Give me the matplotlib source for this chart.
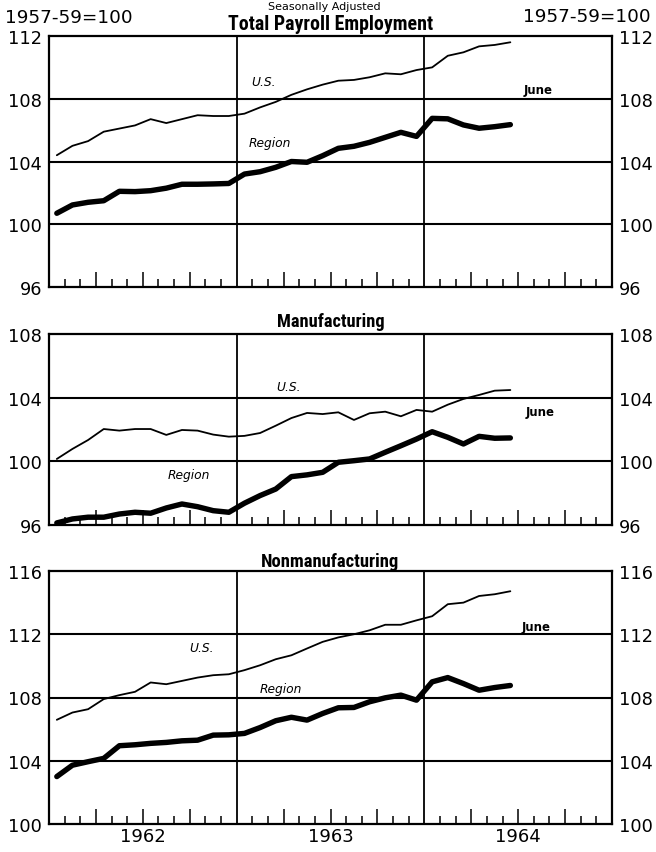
import matplotlib
matplotlib.use("Agg")
import matplotlib.pyplot as plt
import matplotlib.transforms as mtransforms
from matplotlib import font_manager
import numpy as np

# ---------------- data (monthly, Jan 1962 .. Jun 1964) ----------------
months = [f"{m} {y}" for y in (1962, 1963, 1964)
          for m in ("Jan", "Feb", "Mar", "Apr", "May", "Jun",
                    "Jul", "Aug", "Sep", "Oct", "Nov", "Dec")][:30]
years = ["1962", "1963", "1964"]

total_us = [104.4, 105.0, 105.3, 105.9, 106.1, 106.3, 106.7, 106.45, 106.7, 106.95,
            106.9, 106.9, 107.05, 107.45, 107.8, 108.25, 108.6, 108.9, 109.15, 109.2,
            109.37, 109.62, 109.56, 109.83, 110.0, 110.74, 110.96, 111.34, 111.43, 111.6]
total_region = [100.7, 101.23, 101.4, 101.5, 102.1, 102.08, 102.14, 102.3, 102.55, 102.55,
                102.57, 102.6, 103.2, 103.35, 103.63, 104.0, 103.95, 104.37, 104.84, 104.97,
                105.22, 105.54, 105.86, 105.6, 106.75, 106.72, 106.33, 106.12, 106.22, 106.35]

mfg_us = [100.15, 100.78, 101.34, 102.03, 101.93, 102.03, 102.03, 101.66, 101.97, 101.93,
          101.68, 101.55, 101.6, 101.78, 102.24, 102.72, 103.04, 102.97, 103.08, 102.6,
          103.02, 103.12, 102.83, 103.23, 103.12, 103.56, 103.92, 104.17, 104.44, 104.48]
mfg_region = [96.13, 96.38, 96.49, 96.49, 96.69, 96.8, 96.74, 97.07, 97.32, 97.15,
              96.9, 96.8, 97.37, 97.85, 98.26, 99.04, 99.15, 99.31, 99.94, 100.04,
              100.15, 100.57, 100.98, 101.4, 101.86, 101.51, 101.09, 101.57, 101.45, 101.47]

nonmfg_us = [106.59, 107.05, 107.26, 107.9, 108.15, 108.36, 108.95, 108.84, 109.05, 109.26,
             109.41, 109.47, 109.73, 110.04, 110.42, 110.67, 111.1, 111.52, 111.8, 112.0,
             112.25, 112.6, 112.6, 112.88, 113.14, 113.9, 114.0, 114.42, 114.53, 114.72]
nonmfg_region = [103.0, 103.72, 103.94, 104.15, 104.95, 105.01, 105.1, 105.16, 105.26, 105.3,
                 105.62, 105.64, 105.73, 106.1, 106.53, 106.75, 106.57, 106.99, 107.35, 107.37,
                 107.73, 107.98, 108.15, 107.83, 108.99, 109.26, 108.88, 108.46, 108.63, 108.76]

titles = ["Total Payroll Employment", "Manufacturing", "Nonmanufacturing"]
yticks = [[96, 100, 104, 108, 112], [96, 100, 104, 108], [100, 104, 108, 112, 116]]
base_label = "1957-59=100"
subtitle = "Seasonally Adjusted"

# ---------------- fonts ----------------
avail = {f.name for f in font_manager.fontManager.ttflist}
def pick(cands):
    for c in cands:
        if c in avail:
            return c
    return "DejaVu Sans"
cond_font = pick(["Liberation Sans Narrow", "DejaVu Sans Condensed", "Roboto Condensed",
                  "Open Sans Condensed", "Liberation Sans"])
num_font = "DejaVu Sans"

W, H = 656, 853
fig = plt.figure(figsize=(W / 100, H / 100), dpi=100)

def fx(px):
    return px / W
def fy(py):
    return 1 - py / H

panels = [
    dict(top=37, bottom=288, us=total_us, reg=total_region,
         lab=[("U.S.", 13.74, 109.07), ("Region", 14.12, 105.24), ("June", 31.26, 108.62)],
         tbase=30, twidth=205),
    dict(top=335, bottom=526, us=mfg_us, reg=mfg_region,
         lab=[("U.S.", 15.34, 104.73), ("Region", 8.92, 99.2), ("June", 31.39, 103.1)],
         tbase=327, twidth=108),
    dict(top=572, bottom=825, us=nonmfg_us, reg=nonmfg_region,
         lab=[("U.S.", 9.76, 111.19), ("Region", 14.83, 108.6), ("June", 31.13, 112.46)],
         tbase=567, twidth=139),
]

left_px, right_px = 49, 612
x = np.arange(len(months)) + 0.5

title_objs = []
for k, p in enumerate(panels):
    ax = fig.add_axes([fx(left_px), fy(p["bottom"]), fx(right_px - left_px),
                       (p["bottom"] - p["top"]) / H])
    yt = yticks[k]
    ax.set_xlim(0, 36)
    ax.set_ylim(yt[0], yt[-1])
    for v in yt[1:-1]:
        ax.axhline(v, color="black", lw=1.5, zorder=1)
    for xv in (12, 24):
        ax.axvline(xv, color="black", lw=1.3, zorder=1)
    ax.plot(x, p["us"], color="black", lw=1.3, solid_joinstyle="round",
            solid_capstyle="round", zorder=3)
    ax.plot(x, p["reg"], color="black", lw=3.9, solid_joinstyle="round",
            solid_capstyle="round", zorder=3)
    for s in ax.spines.values():
        s.set_linewidth(1.6)
    ax.set_yticks(yt)
    ax.set_yticklabels([str(v) for v in yt], fontsize=12.8, family=num_font)
    ax.tick_params(axis="y", which="both", length=0, left=False, right=False,
                   labelleft=True, labelright=True, pad=5)
    major = [m for m in range(3, 36, 3) if m % 12 != 0]
    minor = [m for m in range(1, 36) if m % 3 != 0]
    ax.set_xticks(major)
    ax.set_xticks(minor, minor=True)
    ax.tick_params(axis="x", which="major", direction="in", length=11, width=1.1,
                   labelbottom=False, top=False)
    ax.tick_params(axis="x", which="minor", direction="in", length=5.5, width=1.1,
                   labelbottom=False, top=False)
    for txt, tx, ty in p["lab"]:
        if txt == "June":
            ax.text(tx, ty, txt, fontsize=8.5, fontweight="bold", ha="center",
                    va="center", family=num_font)
        else:
            ax.text(tx, ty, txt, fontsize=8.8, style="italic", ha="center",
                    va="center", family=num_font)
    t = fig.text(fx(330.5), fy(p["tbase"]), titles[k], fontsize=14.5,
                 fontweight="bold", family=cond_font, ha="center", va="baseline")
    title_objs.append((t, p["twidth"]))
    if k == 2:
        trans = mtransforms.blended_transform_factory(ax.transData, ax.transAxes)
        for j, yr in enumerate(years):
            ax.text(j * 12 + 6, -0.012, yr, transform=trans, fontsize=13,
                    ha="center", va="top", family=num_font)

fig.text(fx(5), fy(23), base_label, fontsize=13.2, ha="left", va="baseline", family=num_font)
fig.text(fx(651), fy(22), base_label, fontsize=13.2, ha="right", va="baseline", family=num_font)
fig.text(fx(324), fy(10), subtitle, fontsize=8, ha="center", va="baseline", family=num_font)

# fit condensed titles to measured widths
fig.canvas.draw()
r = fig.canvas.get_renderer()
for t, wpx in title_objs:
    w = t.get_window_extent(r).width
    if w > 0:
        t.set_fontsize(t.get_fontsize() * wpx / w)

fig.savefig("out.png", dpi=100)
